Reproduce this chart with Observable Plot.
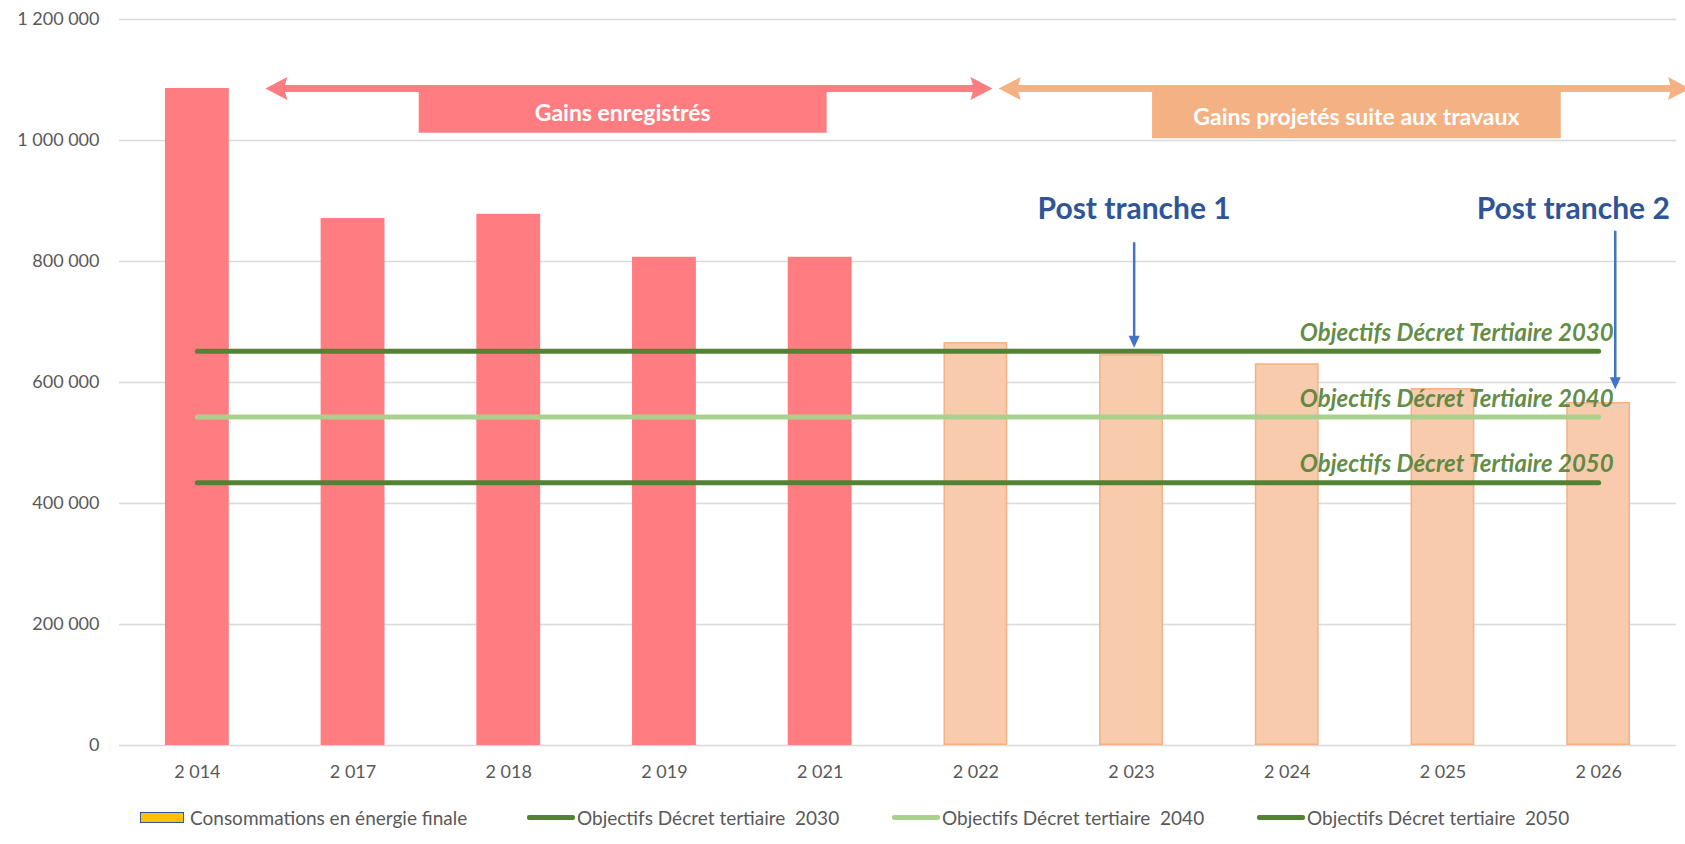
<!DOCTYPE html>
<html>
<head>
<meta charset="utf-8">
<script src="https://cdn.jsdelivr.net/npm/d3@7"></script>
<script src="https://cdn.jsdelivr.net/npm/@observablehq/plot@0.6"></script>
<style>
  html, body { margin: 0; padding: 0; background: #fff; }
  body { font-family: Lato, "Noto Sans", sans-serif; width: 1685px; overflow: hidden; }
  #legend { display: flex; align-items: center; height: 44px; padding-left: 140px; color: #595959; font-size: 19px; }
  #legend .item { display: flex; align-items: center; white-space: pre; }
  #legend .box { width: 42px; height: 9px; background: #FFC000; border: 1.5px solid #2F5597; margin-right: 6px; }
  #legend .ln { width: 48px; height: 5px; border-radius: 2px; margin-right: 2px; }
</style>
</head>
<body>
<div id="chart"></div>
<div id="legend"></div>
<script>
// ---- Data ----
const years = [2014, 2017, 2018, 2019, 2021, 2022, 2023, 2024, 2025, 2026];
const consumption = [1086000, 871000, 878000, 807000, 807000, 666000, 646000, 631000, 590000, 567000];
const phase = ["enregistré", "enregistré", "enregistré", "enregistré", "enregistré", "projeté", "projeté", "projeté", "projeté", "projeté"];
const seriesName = "Consommations en énergie finale";
const objectiveNames = ["Objectifs Décret tertiaire  2030", "Objectifs Décret tertiaire  2040", "Objectifs Décret tertiaire  2050"];
const objectiveTitles = ["Objectifs Décret Tertiaire 2030", "Objectifs Décret Tertiaire 2040", "Objectifs Décret Tertiaire 2050"];
const objectiveValues = [651600, 543000, 434400];
const objectiveColors = ["#548235", "#A9D18E", "#548235"];
const yTicks = [0, 200000, 400000, 600000, 800000, 1000000, 1200000];
const periodLabels = ["Gains enregistrés", "Gains projetés suite aux travaux"];
const trancheLabels = ["Post tranche 1", "Post tranche 2"];

// ---- Formatting (French grouping) ----
const fr = d3.formatLocale({decimal: ",", thousands: " ", grouping: [3], currency: ["", " €"]});
const fmt = fr.format(",d");

const bars = years.map((year, i) => ({year, value: consumption[i], phase: phase[i]}));
const objLines = objectiveValues.flatMap((v, k) => years.map(year => ({year, value: v, name: objectiveNames[k]})));

const chart = Plot.plot({
  width: 1685,
  height: 795,
  marginTop: 19,
  marginBottom: 50,
  marginLeft: 119,
  marginRight: 9,
  style: {fontFamily: "Lato, 'Noto Sans', sans-serif", fontSize: "18px", color: "#595959", background: "white", overflow: "visible"},
  x: {type: "band", domain: years, paddingInner: 0.59, paddingOuter: 0.295, round: false, tickSize: 0, tickPadding: 20, tickFormat: fmt, label: null},
  y: {domain: [0, 1200000], ticks: yTicks, tickSize: 0, tickPadding: 20, tickFormat: fmt, label: null},
  color: {domain: objectiveNames, range: objectiveColors},
  marks: [
    Plot.ruleY(yTicks, {stroke: "#D9D9D9", strokeWidth: 1.6}),
    Plot.barY(bars, {filter: d => d.phase === "enregistré", x: "year", y: "value", fill: "#FF7C80"}),
    Plot.barY(bars, {filter: d => d.phase === "projeté", x: "year", y: "value", fill: "#F8CBAD", stroke: "#F4B183", strokeWidth: 1.5, inset: 0.75}),
    Plot.lineY(objLines, {x: "year", y: "value", z: "name", stroke: "name", strokeWidth: 5, strokeLinecap: "round"}),
    Plot.text(objectiveValues, {
      x: () => years[years.length - 1], y: d => d, text: (d, i) => objectiveTitles[i],
      textAnchor: "end", dx: 15, dy: -18, fill: "#548235", fillOpacity: 0.92,
      fontSize: 24, fontWeight: "bold", fontStyle: "italic"
    })
  ]
});

const svgEl = chart.tagName.toLowerCase() === "svg" ? chart : chart.querySelector("svg");
document.getElementById("chart").appendChild(chart);

// ---- Annotations, positioned with the plot's own scales ----
const sx = chart.scale("x"), sy = chart.scale("y");
const step = sx.step, half = sx.bandwidth / 2;
const cx = (year, f = 0) => sx.apply(year) + half + f * step;
const Y = v => sy.apply(v);
const ann = d3.select(svgEl).append("g");

function head(x, y, angle, len, wid, notch, color) {
  const p = [[0, 0], [-len, -wid / 2], [-len * notch, 0], [-len, wid / 2]];
  const c = Math.cos(angle), s = Math.sin(angle);
  const pts = p.map(([u, v]) => [x + u * c - v * s, y + u * s + v * c]);
  ann.append("path").attr("d", "M" + pts.map(q => q.join(",")).join("L") + "Z").attr("fill", color);
}
function dblArrow(x1, x2, y, color) {
  ann.append("line").attr("x1", x1 + 16).attr("x2", x2 - 16).attr("y1", y).attr("y2", y)
    .attr("stroke", color).attr("stroke-width", 7);
  head(x1, y, Math.PI, 22, 23, 0.85, color);
  head(x2, y, 0, 22, 23, 0.85, color);
}
function periodBox(xa, xb, yTop, yBot, color) {
  ann.append("rect").attr("x", xa).attr("y", yTop).attr("width", xb - xa).attr("height", yBot - yTop).attr("fill", color);
}
function downArrow(x, y1, y2, color) {
  ann.append("line").attr("x1", x).attr("x2", x).attr("y1", y1).attr("y2", y2 - 8)
    .attr("stroke", color).attr("stroke-width", 2.5);
  head(x, y2, Math.PI / 2, 12, 11, 1, color);
}
function label(x, y, text, color, size) {
  ann.append("text").attr("x", x).attr("y", y)
    .attr("text-anchor", "middle").attr("dominant-baseline", "central")
    .attr("fill", color).attr("font-weight", "bold").attr("font-size", size).text(text);
}

const yArrow = Y(1085000);
const red = "#FF7C80", orange = "#F4B183";
// Recorded gains
periodBox(cx(2014, 1.425), cx(2021, 0.045), yArrow, Y(1012000), red);
dblArrow(cx(2014, 0.44), cx(2022, 0.11), yArrow, red);
// Projected gains
periodBox(cx(2023, 0.135), cx(2026, -0.24), yArrow, Y(1003000), orange);
dblArrow(cx(2022, 0.15), cx(2026, 0.59), yArrow, orange);

label((cx(2014, 1.425) + cx(2021, 0.045)) / 2, Y(1046000), periodLabels[0], "white", 23);
label((cx(2023, 0.135) + cx(2026, -0.24)) / 2, Y(1040000), periodLabels[1], "white", 23);

// Post tranche markers
const blue = "#4472C4", darkBlue = "#2F5597";
downArrow(cx(2023, 0.02), Y(831000), Y(651600) - 3, blue);
downArrow(cx(2026, 0.11), Y(850000), Y(588000), blue);
label(cx(2023, 0.02), Y(889000), trancheLabels[0], darkBlue, 30);
label(cx(2026, -0.16), Y(889000), trancheLabels[1], darkBlue, 30);

// ---- Legend (HTML) ----
const legend = d3.select("#legend");
const widths = [387, 365, 365, null];
const i0 = legend.append("div").attr("class", "item").style("width", widths[0] + "px");
i0.append("div").attr("class", "box");
i0.append("span").text(seriesName);
objectiveNames.forEach((name, k) => {
  const it = legend.append("div").attr("class", "item");
  if (widths[k + 1]) it.style("width", widths[k + 1] + "px");
  it.append("div").attr("class", "ln").style("background", objectiveColors[k]);
  it.append("span").text(name);
});
</script>
</body>
</html>
